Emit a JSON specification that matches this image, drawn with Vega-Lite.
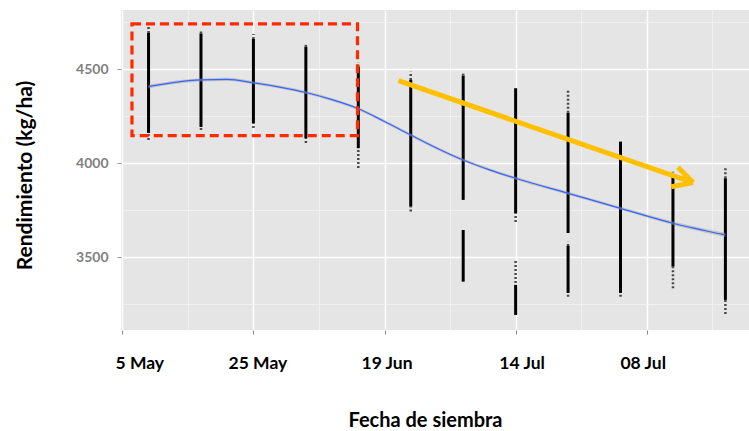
{
  "$schema": "https://vega.github.io/schema/vega-lite/v6.json",
  "width": 628,
  "height": 320,
  "autosize": {"type": "none"},
  "padding": {"left": 121, "top": 10, "right": 0, "bottom": 101},
  "background": "white",
  "config": {"view": {"fill": "#E5E5E5", "stroke": null}, "font": "Lato"},
  "datasets": {
    "densos": [
      {"dia": 10, "rend": 4161, "rend2": 4693},
      {"dia": 20, "rend": 4193, "rend2": 4690},
      {"dia": 30, "rend": 4214, "rend2": 4661},
      {"dia": 40, "rend": 4134, "rend2": 4619},
      {"dia": 50, "rend": 4080, "rend2": 4512},
      {"dia": 60, "rend": 3769, "rend2": 4443},
      {"dia": 70, "rend": 3805, "rend2": 4466},
      {"dia": 70, "rend": 3370, "rend2": 3645},
      {"dia": 80, "rend": 3734, "rend2": 4399},
      {"dia": 80, "rend": 3193, "rend2": 3353},
      {"dia": 90, "rend": 3629, "rend2": 4268},
      {"dia": 90, "rend": 3310, "rend2": 3560},
      {"dia": 100, "rend": 3310, "rend2": 4115},
      {"dia": 110, "rend": 3450, "rend2": 3930},
      {"dia": 120, "rend": 3273, "rend2": 3920}
    ],
    "dispersos": [
      {"dia": 10, "rend": 4693, "rend2": 4736},
      {"dia": 10, "rend": 4124, "rend2": 4161},
      {"dia": 20, "rend": 4690, "rend2": 4709},
      {"dia": 20, "rend": 4177, "rend2": 4193},
      {"dia": 30, "rend": 4661, "rend2": 4688},
      {"dia": 30, "rend": 4188, "rend2": 4214},
      {"dia": 40, "rend": 4619, "rend2": 4635},
      {"dia": 40, "rend": 4108, "rend2": 4134},
      {"dia": 50, "rend": 4512, "rend2": 4534},
      {"dia": 50, "rend": 3975, "rend2": 4080},
      {"dia": 60, "rend": 4443, "rend2": 4487},
      {"dia": 60, "rend": 3743, "rend2": 3769},
      {"dia": 70, "rend": 4466, "rend2": 4482},
      {"dia": 80, "rend": 3688, "rend2": 3734},
      {"dia": 80, "rend": 3363, "rend2": 3486},
      {"dia": 90, "rend": 4268, "rend2": 4394},
      {"dia": 90, "rend": 3560, "rend2": 3583},
      {"dia": 90, "rend": 3290, "rend2": 3310},
      {"dia": 100, "rend": 3290, "rend2": 3310},
      {"dia": 110, "rend": 3930, "rend2": 3955},
      {"dia": 110, "rend": 3335, "rend2": 3450},
      {"dia": 120, "rend": 3920, "rend2": 3973},
      {"dia": 120, "rend": 3198, "rend2": 3273}
    ],
    "suave": [
      {"dia": 10, "rend": 4407, "lo": 4397, "hi": 4417},
      {"dia": 15, "rend": 4430, "lo": 4421, "hi": 4439},
      {"dia": 20, "rend": 4443, "lo": 4435, "hi": 4451},
      {"dia": 25, "rend": 4446, "lo": 4438, "hi": 4454},
      {"dia": 30, "rend": 4428, "lo": 4420, "hi": 4436},
      {"dia": 35, "rend": 4405, "lo": 4397, "hi": 4413},
      {"dia": 40, "rend": 4376, "lo": 4368, "hi": 4384},
      {"dia": 45, "rend": 4338, "lo": 4330, "hi": 4346},
      {"dia": 50, "rend": 4290, "lo": 4282, "hi": 4298},
      {"dia": 55, "rend": 4222, "lo": 4214, "hi": 4230},
      {"dia": 60, "rend": 4150, "lo": 4142, "hi": 4158},
      {"dia": 65, "rend": 4080, "lo": 4072, "hi": 4088},
      {"dia": 70, "rend": 4017, "lo": 4009, "hi": 4025},
      {"dia": 75, "rend": 3965, "lo": 3957, "hi": 3973},
      {"dia": 80, "rend": 3920, "lo": 3912, "hi": 3928},
      {"dia": 90, "rend": 3840, "lo": 3832, "hi": 3848},
      {"dia": 100, "rend": 3760, "lo": 3752, "hi": 3768},
      {"dia": 110, "rend": 3681, "lo": 3672, "hi": 3690},
      {"dia": 120, "rend": 3619, "lo": 3608, "hi": 3630}
    ],
    "recuadro": [
      {"dia": 6.84, "dia2": 49.85, "rend": 4147, "rend2": 4741}
    ],
    "flecha": [
      {"dia": 57.66, "dia2": 113.85, "rend": 4439, "rend2": 3897},
      {"dia": 110.93, "dia2": 113.85, "rend": 3979, "rend2": 3897},
      {"dia": 109.66, "dia2": 113.85, "rend": 3875, "rend2": 3897}
    ]
  },
  "layer": [
    {
      "data": {"name": "densos"},
      "mark": {"type": "rule", "color": "black", "strokeWidth": 3},
      "encoding": {
        "x": {
          "field": "dia", "type": "quantitative", "title": "Fecha de siembra",
          "scale": {"domain": [4.75, 124.5], "nice": false, "zero": false},
          "axis": {
            "values": [5, 17.5, 30, 42.5, 55, 67.5, 80, 92.5, 105, 117.5],
            "labelExpr": "datum.value == 5 ? '5 May' : datum.value == 30 ? '25 May' : datum.value == 55 ? '19 Jun' : datum.value == 80 ? '14 Jul' : datum.value == 105 ? '08 Jul' : ''",
            "domain": false,
            "grid": true,
            "gridColor": {"condition": {"test": "datum.value % 25 == 5", "value": "#FFFFFF"}, "value": "#F2F2F2"},
            "gridWidth": {"condition": {"test": "datum.value % 25 == 5", "value": 1.5}, "value": 0.8},
            "tickColor": {"condition": {"test": "datum.value % 25 == 5", "value": "#888888"}, "value": "transparent"},
            "tickSize": 4,
            "labelFont": "Lato", "labelFontSize": 17.5, "labelFontWeight": "bold", "labelColor": "black",
            "labelAlign": "center",
            "labelOffset": {"condition": [
              {"test": "datum.value == 5", "value": 17},
              {"test": "datum.value == 30", "value": 4},
              {"test": "datum.value == 55", "value": 2},
              {"test": "datum.value == 80", "value": 6},
              {"test": "datum.value == 105", "value": -4}
            ], "value": 0},
            "labelBaseline": "middle", "labelPadding": 29,
            "labelFlush": false, "labelOverlap": false, "labelBound": false,
            "titleFont": "Lato", "titleFontSize": 20, "titleFontWeight": "bold", "titleColor": "black",
            "titleX": 304, "titleY": 90, "titleBaseline": "middle", "titleAlign": "center"
          }
        },
        "y": {
          "field": "rend", "type": "quantitative", "title": "Rendimiento (kg/ha)",
          "scale": {"domain": [3113, 4815], "nice": false, "zero": false},
          "axis": {
            "values": [3250, 3500, 3750, 4000, 4250, 4500, 4750],
            "format": "d",
            "labelExpr": "datum.value % 500 == 0 ? datum.label : ''",
            "domain": false,
            "grid": true,
            "gridColor": {"condition": {"test": "datum.value % 500 == 0", "value": "#FFFFFF"}, "value": "#F2F2F2"},
            "gridWidth": {"condition": {"test": "datum.value % 500 == 0", "value": 1.5}, "value": 0.8},
            "tickColor": {"condition": {"test": "datum.value % 500 == 0", "value": "#999999"}, "value": "transparent"},
            "tickSize": 4,
            "labelFont": "Lato", "labelFontSize": 14, "labelFontWeight": "bold", "labelColor": "#7F7F7F",
            "labelBaseline": "middle", "labelPadding": 9, "labelDy": 4,
            "titleFont": "Lato", "titleFontSize": 21, "titleFontWeight": "bold", "titleColor": "black",
            "titleX": -96, "titleY": 165, "titleBaseline": "middle", "titleAlign": "center", "titleAngle": -90
          }
        },
        "y2": {"field": "rend2"}
      }
    },
    {
      "data": {"name": "dispersos"},
      "mark": {"type": "rule", "color": "#222222", "strokeWidth": 2.5, "strokeDash": [2, 2], "opacity": 0.8},
      "encoding": {
        "x": {"field": "dia", "type": "quantitative", "title": "Fecha de siembra", "scale": {"domain": [4.75, 124.5], "nice": false, "zero": false}},
        "y": {"field": "rend", "type": "quantitative", "title": "Rendimiento (kg/ha)", "scale": {"domain": [3113, 4815], "nice": false, "zero": false}},
        "y2": {"field": "rend2"}
      }
    },
    {
      "data": {"name": "suave"},
      "mark": {"type": "area", "color": "#999999", "opacity": 0.45, "interpolate": "monotone"},
      "encoding": {
        "x": {"field": "dia", "type": "quantitative", "title": "Fecha de siembra", "scale": {"domain": [4.75, 124.5], "nice": false, "zero": false}},
        "y": {"field": "lo", "type": "quantitative", "title": "Rendimiento (kg/ha)", "scale": {"domain": [3113, 4815], "nice": false, "zero": false}},
        "y2": {"field": "hi"}
      }
    },
    {
      "data": {"name": "suave"},
      "mark": {"type": "line", "color": "#3366FF", "strokeWidth": 1.2, "interpolate": "monotone"},
      "encoding": {
        "x": {"field": "dia", "type": "quantitative", "title": "Fecha de siembra", "scale": {"domain": [4.75, 124.5], "nice": false, "zero": false}},
        "y": {"field": "rend", "type": "quantitative", "title": "Rendimiento (kg/ha)", "scale": {"domain": [3113, 4815], "nice": false, "zero": false}}
      }
    },
    {
      "data": {"name": "recuadro"},
      "mark": {"type": "rect", "fill": null, "fillOpacity": 0, "stroke": "#FF2A00", "strokeWidth": 3.2, "strokeDash": [9, 5]},
      "encoding": {
        "x": {"field": "dia", "type": "quantitative", "title": "Fecha de siembra", "scale": {"domain": [4.75, 124.5], "nice": false, "zero": false}},
        "x2": {"field": "dia2"},
        "y": {"field": "rend", "type": "quantitative", "title": "Rendimiento (kg/ha)", "scale": {"domain": [3113, 4815], "nice": false, "zero": false}},
        "y2": {"field": "rend2"}
      }
    },
    {
      "data": {"name": "flecha"},
      "mark": {"type": "rule", "color": "#FFC000", "strokeWidth": 5, "strokeCap": "butt"},
      "encoding": {
        "x": {"field": "dia", "type": "quantitative", "title": "Fecha de siembra", "scale": {"domain": [4.75, 124.5], "nice": false, "zero": false}},
        "x2": {"field": "dia2"},
        "y": {"field": "rend", "type": "quantitative", "title": "Rendimiento (kg/ha)", "scale": {"domain": [3113, 4815], "nice": false, "zero": false}},
        "y2": {"field": "rend2"}
      }
    }
  ]
}
